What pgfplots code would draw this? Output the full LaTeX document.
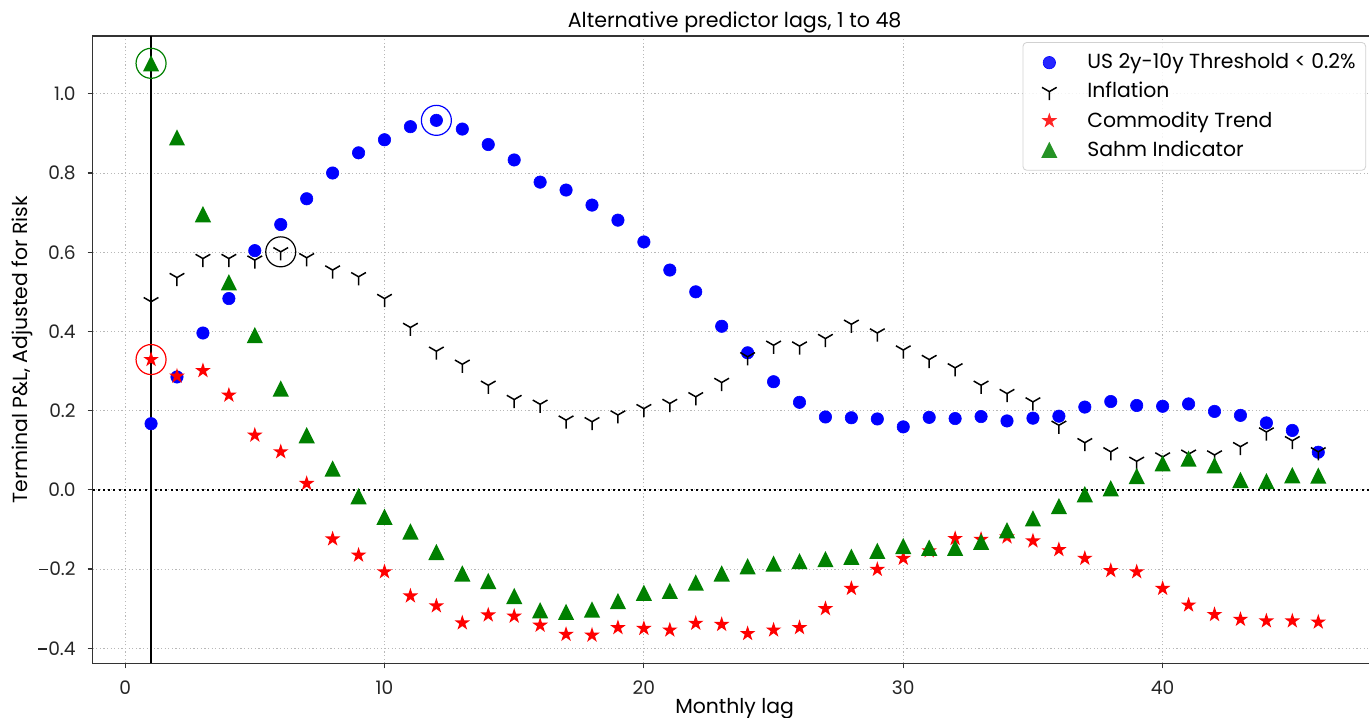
\documentclass[border=0pt]{standalone}
\usepackage{pgfplots}
\pgfplotsset{compat=1.18}
\usepackage{pgfplotstable}
\usepackage{fontspec}
\setmainfont{Poppins}
\usetikzlibrary{plotmarks}

\newcommand\tickfont{\fontsize{9.3}{11}\selectfont}
\newcommand\legfont{\fontsize{10.2}{11}\selectfont}
\newcommand\labfont{\fontsize{10.2}{12}\selectfont}
\newcommand\titfont{\fontsize{10.3}{12}\selectfont}
\newcommand\mminus{\rule[2.75pt]{4.2pt}{0.55pt}\hspace{0.9pt}}

\definecolor{mplgreen}{RGB}{0,128,0}

\pgfdeclareplotmark{mtri}{%
  \pgfpathmoveto{\pgfqpoint{0pt}{\pgfplotmarksize}}%
  \pgfpathlineto{\pgfqpoint{-\pgfplotmarksize}{-\pgfplotmarksize}}%
  \pgfpathlineto{\pgfqpoint{\pgfplotmarksize}{-\pgfplotmarksize}}%
  \pgfpathclose\pgfusepathqfill}
\pgfdeclareplotmark{tridown}{%
  \pgfpathmoveto{\pgfqpoint{0pt}{0pt}}%
  \pgfpathlineto{\pgfqpoint{0pt}{-\pgfplotmarksize}}%
  \pgfpathmoveto{\pgfqpoint{0pt}{0pt}}%
  \pgfpathlineto{\pgfqpoint{-0.866\pgfplotmarksize}{0.5\pgfplotmarksize}}%
  \pgfpathmoveto{\pgfqpoint{0pt}{0pt}}%
  \pgfpathlineto{\pgfqpoint{0.866\pgfplotmarksize}{0.5\pgfplotmarksize}}%
  \pgfusepathqstroke}
\pgfdeclareplotmark{mstar}{%
  \pgfpathmoveto{\pgfpointpolar{90}{\pgfplotmarksize}}%
  \pgfpathlineto{\pgfpointpolar{126}{0.382\pgfplotmarksize}}%
  \pgfpathlineto{\pgfpointpolar{162}{\pgfplotmarksize}}%
  \pgfpathlineto{\pgfpointpolar{198}{0.382\pgfplotmarksize}}%
  \pgfpathlineto{\pgfpointpolar{234}{\pgfplotmarksize}}%
  \pgfpathlineto{\pgfpointpolar{270}{0.382\pgfplotmarksize}}%
  \pgfpathlineto{\pgfpointpolar{306}{\pgfplotmarksize}}%
  \pgfpathlineto{\pgfpointpolar{342}{0.382\pgfplotmarksize}}%
  \pgfpathlineto{\pgfpointpolar{18}{\pgfplotmarksize}}%
  \pgfpathlineto{\pgfpointpolar{54}{0.382\pgfplotmarksize}}%
  \pgfpathclose\pgfusepathqfill}

\pgfplotstableread{
x y
1 0.167
2 0.285
3 0.396
4 0.483
5 0.604
6 0.670
7 0.735
8 0.800
9 0.851
10 0.884
11 0.917
12 0.933
13 0.911
14 0.872
15 0.833
16 0.777
17 0.757
18 0.719
19 0.681
20 0.626
21 0.555
22 0.500
23 0.413
24 0.346
25 0.273
26 0.221
27 0.184
28 0.182
29 0.179
30 0.159
31 0.183
32 0.180
33 0.185
34 0.174
35 0.181
36 0.186
37 0.209
38 0.223
39 0.213
40 0.211
41 0.217
42 0.198
43 0.188
44 0.169
45 0.150
46 0.095
}\usdata

\pgfplotstableread{
x y
1 0.475
2 0.536
3 0.584
4 0.584
5 0.580
6 0.601
7 0.586
8 0.555
9 0.538
10 0.483
11 0.410
12 0.350
13 0.317
14 0.264
15 0.228
16 0.216
17 0.176
18 0.172
19 0.189
20 0.205
21 0.218
22 0.235
23 0.271
24 0.336
25 0.365
26 0.363
27 0.382
28 0.418
29 0.396
30 0.353
31 0.329
32 0.308
33 0.264
34 0.243
35 0.222
36 0.163
37 0.119
38 0.096
39 0.072
40 0.083
41 0.090
42 0.088
43 0.109
44 0.146
45 0.124
46 0.096
}\infdata

\pgfplotstableread{
x y
1 0.329
2 0.287
3 0.301
4 0.239
5 0.138
6 0.096
7 0.016
8 -0.124
9 -0.165
10 -0.207
11 -0.268
12 -0.293
13 -0.336
14 -0.316
15 -0.319
16 -0.342
17 -0.365
18 -0.367
19 -0.348
20 -0.350
21 -0.354
22 -0.337
23 -0.340
24 -0.363
25 -0.354
26 -0.348
27 -0.300
28 -0.249
29 -0.201
30 -0.173
31 -0.154
32 -0.123
33 -0.125
34 -0.119
35 -0.129
36 -0.151
37 -0.173
38 -0.204
39 -0.207
40 -0.249
41 -0.291
42 -0.315
43 -0.327
44 -0.331
45 -0.331
46 -0.334
}\comdata

\pgfplotstableread{
x y
1 1.077
2 0.890
3 0.696
4 0.524
5 0.391
6 0.256
7 0.138
8 0.054
9 -0.016
10 -0.068
11 -0.105
12 -0.157
13 -0.211
14 -0.230
15 -0.268
16 -0.304
17 -0.308
18 -0.302
19 -0.281
20 -0.260
21 -0.255
22 -0.234
23 -0.211
24 -0.193
25 -0.186
26 -0.180
27 -0.175
28 -0.169
29 -0.154
30 -0.142
31 -0.146
32 -0.146
33 -0.131
34 -0.102
35 -0.072
36 -0.041
37 -0.011
38 0.004
39 0.035
40 0.067
41 0.079
42 0.062
43 0.025
44 0.022
45 0.037
46 0.036
}\sahmdata

\begin{document}
\begin{tikzpicture}
\useasboundingbox (-46.35pt,-26.85pt) rectangle (638.15pt,331.65pt);
\begin{axis}[
  scale only axis,
  width=641.95pt, height=313.65pt,
  xmin=-1.25, xmax=48.25,
  ymin=-0.438, ymax=1.146,
  xtick={0,10,20,30,40},
  xticklabels={0,10,20,30,40},
  ytick={-0.4,-0.2,0,0.2,0.4,0.6,0.8,1.0},
  yticklabels={\mminus0.4,\mminus0.2,0.0,0.2,0.4,0.6,0.8,1.0},
  tick align=outside,
  xtick pos=left, ytick pos=left,
  major tick length=2.5pt,
  every tick/.style={black!80, line width=0.6pt},
  axis line style={black!80, line width=0.6pt},
  ticklabel style={font=\tickfont, text=black!85, inner sep=0pt},
  xticklabel style={anchor=base, yshift=-12.85pt},
  yticklabel style={anchor=east, xshift=-5.85pt},
  grid=major,
  major grid style={line width=0.45pt, color=black!28, dash pattern=on 0.6pt off 1.2pt},
  title={Alternative predictor lags, 1 to 48},
  every axis title/.style={font=\titfont, at={(axis description cs:0.5,1)}, anchor=base, yshift=4pt},
  xlabel={Monthly lag},
  every axis x label/.style={font=\labfont, at={(axis description cs:0.5,0)}, anchor=base, yshift=-25.3pt},
  ylabel={Terminal P\&L, Adjusted for Risk},
  every axis y label/.style={font=\labfont, at={(axis description cs:-0.0504,0.5)}, anchor=base, rotate=90},
  legend style={at={(axis description cs:0.9918,0.9904)}, anchor=north east,
    draw=black!18, rounded corners=2pt, font=\legfont, fill=white, fill opacity=0.85, text opacity=1,
    inner xsep=3pt, inner ysep=3.6pt, row sep=1.3pt,
    /tikz/every odd column/.append style={column sep=6.8pt}},
  legend cell align=left,
  legend image code/.code={\path (0pt,0pt) (20pt,0pt); \draw[#1] plot coordinates {(10pt,0pt)};},
]
\addplot[forget plot, black, line width=1pt, dash pattern=on 1pt off 1.6pt] coordinates {(-1.25,0) (48.25,0)};
\addplot[only marks, mark=*, mark size=3.1pt, mark options={draw=blue, fill=blue, line width=0.3pt}] table[x=x,y=y] {\usdata};
\addlegendentry{US 2y-10y Threshold < 0.2\%}
\addplot[only marks, mark=tridown, mark size=4.25pt, mark options={draw=black, line width=0.75pt}] table[x=x,y=y] {\infdata};
\addlegendentry{Inflation}
\addplot[only marks, mark=mstar, mark size=4.1pt, mark options={fill=red, draw=red}] table[x=x,y=y] {\comdata};
\addlegendentry{Commodity Trend}
\addplot[only marks, mark=mtri, mark size=4.05pt, mark options={fill=mplgreen, draw=mplgreen}] table[x=x,y=y] {\sahmdata};
\addlegendentry{Sahm Indicator}
\addplot[forget plot, black, line width=1pt] coordinates {(1,-0.438) (1,1.146)};
\addplot[forget plot, only marks, mark=o, mark size=7.5pt, mark options={draw=mplgreen, line width=0.6pt}] coordinates {(1,1.077)};
\addplot[forget plot, only marks, mark=o, mark size=7.5pt, mark options={draw=red, line width=0.6pt}] coordinates {(1,0.329)};
\addplot[forget plot, only marks, mark=o, mark size=7.5pt, mark options={draw=black, line width=0.6pt}] coordinates {(6,0.601)};
\addplot[forget plot, only marks, mark=o, mark size=7.5pt, mark options={draw=blue, line width=0.6pt}] coordinates {(12,0.933)};
\end{axis}
\end{tikzpicture}
\end{document}
